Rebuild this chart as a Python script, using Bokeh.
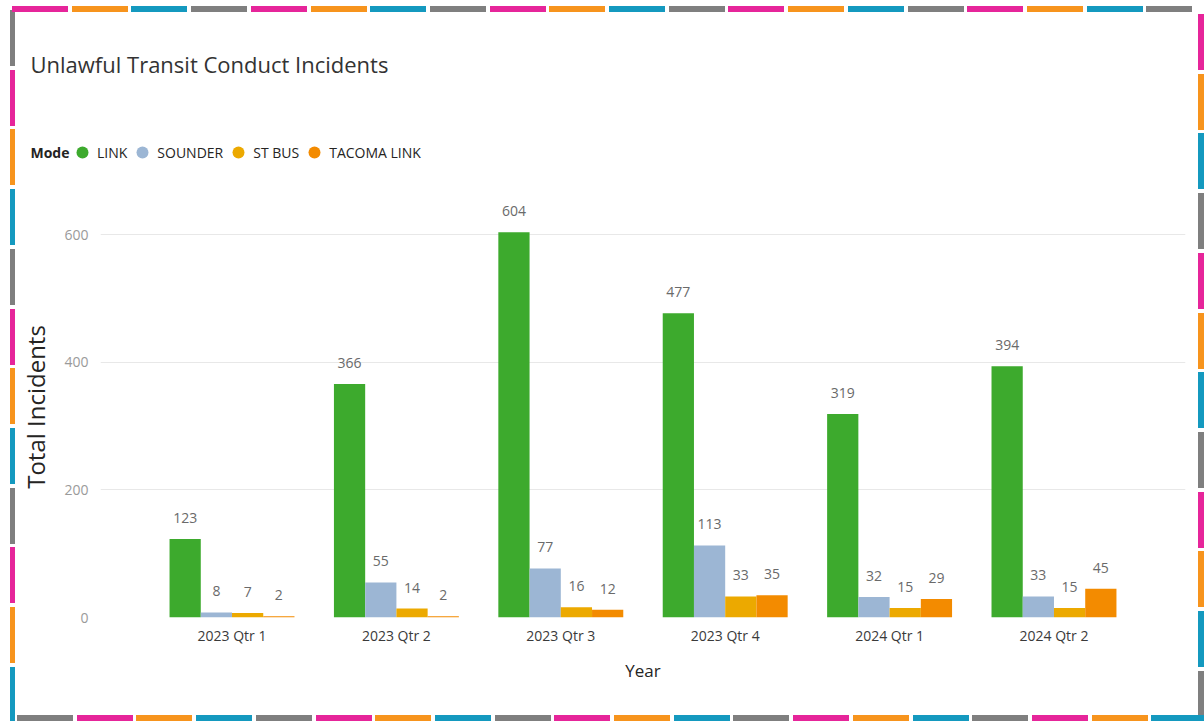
from bokeh.plotting import figure
from bokeh.layouts import column
from bokeh.models import (ColumnDataSource, Legend, LegendItem, Label,
                          FixedTicker, Range1d)
from bokeh.core.properties import value
from bokeh.embed import file_html
from bokeh.resources import INLINE

# ---------------- data ----------------
periods = ["2023 Qtr 1", "2023 Qtr 2", "2023 Qtr 3", "2023 Qtr 4", "2024 Qtr 1", "2024 Qtr 2"]
modes = ["LINK", "SOUNDER", "ST BUS", "TACOMA LINK"]
link = [123, 366, 604, 477, 319, 394]
sounder = [8, 55, 77, 113, 32, 33]
st_bus = [7, 14, 16, 33, 15, 15]
tacoma_link = [2, 2, 12, 35, 29, 45]
y_ticks = [0, 200, 400, 600]

mode_colors = ["#3DAA2D", "#9CB6D4", "#ECA900", "#F38B00"]
border_colors = ["#E6259A", "#F7941D", "#1499BF", "#7F7F7F"]

W, H = 1204, 721
HEAD = 196
FONT = "Open Sans"
DARK = "#252423"

# ---------------- decorative segmented border (CSS background behind canvases) ----------------
period_px, seg_len, thick = 59.7, 56, 6

def grad(direction, first):
    parts = []
    for i in range(4):
        c = border_colors[(first + i) % 4]
        a, b, e = i * period_px, i * period_px + seg_len, (i + 1) * period_px
        parts.append(f"{c} {a:.1f}px {b:.1f}px, transparent {b:.1f}px {e:.1f}px")
    return f"repeating-linear-gradient({direction}, {', '.join(parts)})"

border_styles = {
    "background-color": "white",
    "background-image": ", ".join([grad("to right", 0), grad("to right", 3),
                                   grad("to bottom", 3), grad("to bottom", 0)]),
    "background-position": f"12px 6px, 17px {H - thick}px, 10px 10px, {W - thick}px 14px",
    "background-size": f"{W - 24}px {thick}px, {W - 17}px {thick}px, 5px {H - 10}px, {thick}px {H - 14}px",
    "background-repeat": "no-repeat",
}

# ---------------- header: title + legend ----------------
head = figure(width=W, height=HEAD, output_backend="svg", toolbar_location=None, tools="",
              x_range=Range1d(0, W), y_range=Range1d(HEAD, 0),
              x_axis_type=None, y_axis_type=None, min_border=0,
              background_fill_color=None, border_fill_color=None)
head.frame_align = False
head.outline_line_color = None
head.grid.visible = False

head.add_layout(Label(x=30, y=63, text="Unlawful Transit Conduct Incidents",
                      text_baseline="middle", text_font=FONT, text_font_size="22px",
                      text_color="#333333"))
head.add_layout(Label(x=30, y=152, text="Mode", text_baseline="middle",
                      text_font=FONT, text_font_size="14px", text_font_style="bold",
                      text_color=DARK))

items = []
for mode, col in zip(modes, mode_colors):
    # legend swatch renderer: one off-screen point so the legend has a glyph to draw
    r = head.scatter(x=[float("nan")], y=[float("nan")], marker="circle",
                     fill_color=col, line_color=None)
    items.append(LegendItem(label=mode, renderers=[r]))
legend = Legend(items=items, orientation="horizontal", location=(67, 29),
                glyph_width=30, glyph_height=30, label_standoff=0, spacing=0,
                padding=0, margin=0, border_line_color=None, background_fill_alpha=0,
                label_text_font=FONT, label_text_font_size="14px",
                label_text_color=DARK, label_text_baseline="middle")
head.add_layout(legend)

# ---------------- main chart ----------------
p = figure(width=W, height=H - HEAD, output_backend="svg", toolbar_location=None, tools="",
           x_range=Range1d(-0.8, len(periods) - 1 + 0.8), y_range=Range1d(0, 660),
           min_border_left=100, min_border_right=19, min_border_top=0, min_border_bottom=104,
           background_fill_color="white", border_fill_color=None)
p.frame_align = False
p.outline_line_color = None

series = [link, sounder, st_bus, tacoma_link]
bar_w = 0.19
n_modes = len(modes)
for k, (mode, vals, col) in enumerate(zip(modes, series, mode_colors)):
    off = (k - (n_modes - 1) / 2) * bar_w
    src = ColumnDataSource(dict(
        x=[i + off for i in range(len(periods))],
        top=vals,
        label=[str(v) for v in vals],
    ))
    p.vbar(x="x", top="top", width=bar_w, source=src, fill_color=col, line_color=None)
    p.text(x="x", y="top", text="label", source=src, text_align="center",
           text_baseline="middle", y_offset=-21, text_font=value(FONT),
           text_font_size="14px", text_color="#6a6a6a")

p.xaxis.ticker = FixedTicker(ticks=list(range(len(periods))))
p.xaxis.major_label_overrides = {i: lab for i, lab in enumerate(periods)}
p.xaxis.axis_label = "Year"
p.yaxis.ticker = FixedTicker(ticks=y_ticks)
p.yaxis.axis_label = "Total Incidents"

for ax in (p.xaxis, p.yaxis):
    ax.axis_line_color = None
    ax.major_tick_line_color = None
    ax.minor_tick_line_color = None
    ax.major_tick_out = 0
    ax.major_tick_in = 0
    ax.major_label_text_font = FONT
    ax.major_label_text_font_size = "14px"
    ax.axis_label_text_font = FONT
    ax.axis_label_text_font_style = "normal"
    ax.axis_label_text_color = DARK

p.xaxis.major_label_text_color = "#3a3a3a"
p.xaxis.major_label_standoff = 8
p.xaxis.axis_label_text_font_size = "17px"
p.xaxis.axis_label_standoff = 11
p.yaxis.major_label_text_color = "#9a9a9a"
p.yaxis.major_label_standoff = 12
p.yaxis.axis_label_text_font_size = "24px"
p.yaxis.axis_label_standoff = 9

p.xgrid.visible = False
p.ygrid.grid_line_color = "#e8e8e8"
p.ygrid.grid_line_width = 1

layout = column(head, p, spacing=0, styles=border_styles)
open("out.html", "w").write(file_html(layout, INLINE))
